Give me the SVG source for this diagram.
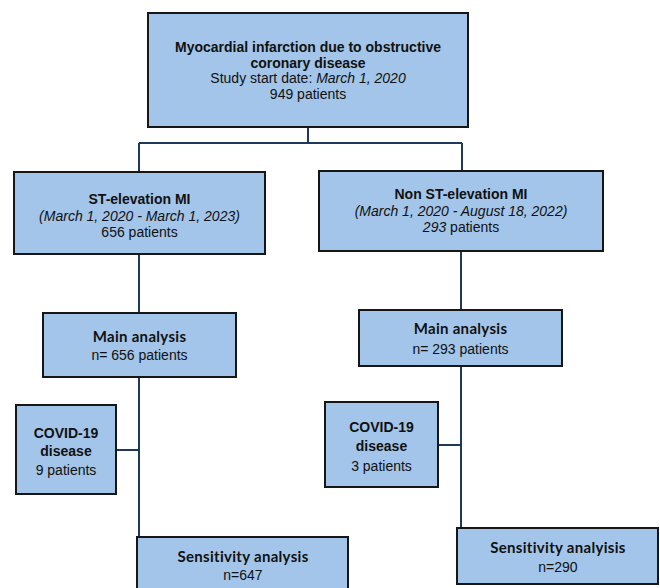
<svg xmlns="http://www.w3.org/2000/svg" width="660" height="588" viewBox="0 0 660 588">
<style>
.box{fill:#a2c5e9;stroke:#161616;stroke-width:2}
.con{fill:none;stroke:#1d3a5c;stroke-width:2}
.a{font-family:"Liberation Sans",Arial,sans-serif;font-size:14px;fill:#111;text-anchor:middle}
.ab{font-family:"Liberation Sans",Arial,sans-serif;font-size:14px;font-weight:bold;fill:#111;text-anchor:middle}
.c{font-family:Lato,"Open Sans",sans-serif;font-size:15px;font-weight:bold;fill:#111;text-anchor:middle;letter-spacing:0.3px}
.i{font-style:italic}
</style>
<rect width="660" height="588" fill="#fff"/>
<g id="connectors">
<path class="con" d="M308 127V143M139 143H462M139 143V171M462 143V171"/>
<path class="con" d="M139 254V313M139 377V537M116 450H139"/>
<path class="con" d="M461 251V310M461 366V528M438 445H461"/>
</g>
<g id="top">
<rect class="box" x="148" y="13" width="320" height="114"/>
<text class="ab" x="308" y="51.5">Myocardial infarction due to obstructive</text>
<text class="ab" x="308" y="67.5">coronary disease</text>
<text class="a" x="308" y="83">Study start date: <tspan class="i">March 1, 2020</tspan></text>
<text class="a" x="308" y="99">949 patients</text>
</g>
<g id="stemi">
<rect class="box" x="14" y="172" width="251" height="82"/>
<text class="ab" x="139.5" y="204">ST-elevation MI</text>
<text class="a i" x="139.5" y="221">(March 1, 2020 - March 1, 2023)</text>
<text class="a" x="139.5" y="237">656 patients</text>
</g>
<g id="nstemi">
<rect class="box" x="319" y="171" width="284" height="80"/>
<text class="ab" x="461" y="199">Non ST-elevation MI</text>
<text class="a i" x="461" y="216">(March 1, 2020 - August 18, 2022)</text>
<text class="a" x="461" y="232"><tspan class="i">293</tspan> patients</text>
</g>
<g id="main-left">
<rect class="box" x="43" y="313" width="193" height="64"/>
<text class="c" x="139.5" y="342">Main analysis</text>
<text class="a" x="139.5" y="360">n= 656 patients</text>
</g>
<g id="main-right">
<rect class="box" x="359" y="310" width="203" height="56"/>
<text class="c" x="460.5" y="334">Main analysis</text>
<text class="a" x="460.5" y="354">n= 293 patients</text>
</g>
<g id="covid-left">
<rect class="box" x="16" y="405" width="100" height="89"/>
<text class="ab" x="66" y="438">COVID-19</text>
<text class="ab" x="66" y="456">disease</text>
<text class="a" x="66" y="475">9 patients</text>
</g>
<g id="covid-right">
<rect class="box" x="325" y="402" width="113" height="85"/>
<text class="ab" x="381.5" y="432">COVID-19</text>
<text class="ab" x="381.5" y="451">disease</text>
<text class="a" x="381.5" y="471">3 patients</text>
</g>
<g id="sens-left">
<rect class="box" x="137" y="537" width="211" height="60"/>
<text class="c" x="243" y="562">Sensitivity analysis</text>
<text class="a" x="243" y="580">n=647</text>
</g>
<g id="sens-right">
<rect class="box" x="457" y="528" width="201" height="56"/>
<text class="c" x="558" y="553">Sensitivity analyisis</text>
<text class="a" x="558" y="572">n=290</text>
</g>
</svg>
